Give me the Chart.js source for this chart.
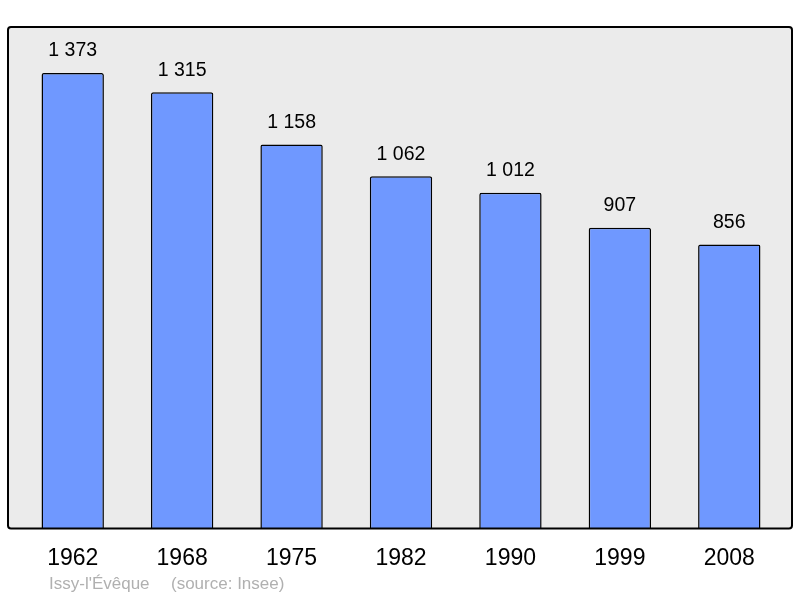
<!DOCTYPE html>
<html>
<head>
<meta charset="utf-8">
<script src="https://cdn.jsdelivr.net/npm/chart.js@4"></script>
<style>
  body { margin: 0; background: #fff; }
  #wrap { width: 800px; height: 598px; position: relative; }
</style>
</head>
<body>
<div id="wrap"><canvas id="myChart" width="800" height="598"></canvas></div>
<script>
var years = ["1962", "1968", "1975", "1982", "1990", "1999", "2008"];
var population = [1373, 1315, 1158, 1062, 1012, 907, 856];
var placeName = "Issy-l'\u00c9v\u00eaque";
var sourceName = "(source: Insee)";

function fmt(n) {
   return String(n).replace(/\B(?=(\d{3})+(?!\d))/g, " ");
}

var frame = {
   id: 'frame',
   beforeDraw: function (chart) {
      var c = chart.ctx;
      var a = chart.chartArea;
      c.save();
      c.fillStyle = "#ebebeb";
      c.beginPath();
      c.roundRect(8, 27, 784, a.bottom - 27, 3);
      c.fill();
      c.restore();
   },
   afterDatasetsDraw: function (chart) {
      var c = chart.ctx;
      var a = chart.chartArea;
      c.save();
      c.strokeStyle = "#000";
      c.lineWidth = 2;
      c.beginPath();
      c.roundRect(8, 27, 784, a.bottom - 27, 3);
      c.stroke();
      var meta = chart.getDatasetMeta(0);
      c.font = "19.5px 'Liberation Sans', Arial, sans-serif";
      c.fillStyle = "#000";
      c.textAlign = "center";
      c.textBaseline = "middle";
      meta.data.forEach(function (bar, i) {
         c.fillText(fmt(population[i]), bar.x, bar.y - 22);
      });
      c.font = "17px 'Liberation Sans', Arial, sans-serif";
      c.fillStyle = "#b0b0b0";
      c.textAlign = "left";
      c.fillText(placeName, 49, 584);
      c.fillText(sourceName, 171, 584);
      c.restore();
   }
};

var ctx = document.getElementById("myChart").getContext('2d');
var myChart = new Chart(ctx, {
   type: 'bar',
   data: {
      labels: years,
      datasets: [{
         data: population,
         backgroundColor: "#6f98ff",
         borderColor: "#000",
         borderWidth: 1.5,
         borderRadius: 2,
         borderSkipped: 'bottom',
         barPercentage: 0.57,
         categoryPercentage: 1
      }]
   },
   options: {
      responsive: false,
      animation: false,
      layout: { padding: { left: 18, right: 16, top: 31, bottom: 18 } },
      plugins: { legend: { display: false }, tooltip: { enabled: false } },
      scales: {
         x: {
            grid: { display: false },
            border: { display: false },
            ticks: {
               color: "#000",
               padding: 8,
               font: { family: "'Liberation Sans', Arial, sans-serif", size: 23 }
            }
         },
         y: {
            display: false,
            min: 0,
            max: 1500
         }
      }
   },
   plugins: [frame]
});
</script>
</body>
</html>
